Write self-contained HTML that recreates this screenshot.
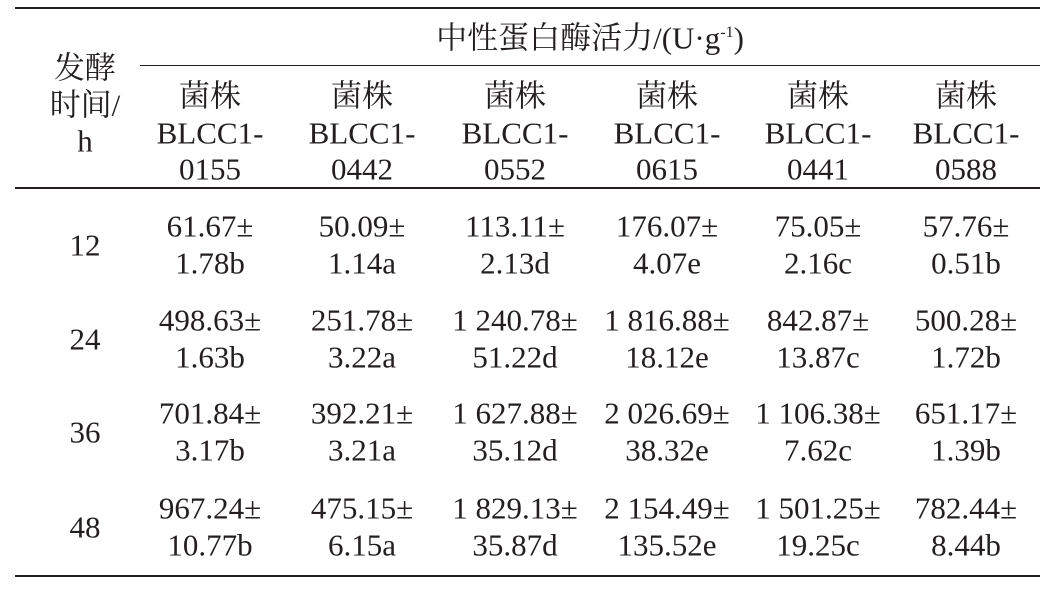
<!DOCTYPE html>
<html><head><meta charset="utf-8"><style>
body{margin:0;background:#fff;width:1053px;height:593px;position:relative;overflow:hidden;font-family:"Liberation Serif","Noto Serif CJK SC",serif;color:#231f20;font-size:31px}
.t{position:absolute;white-space:nowrap;transform:translate(-50%,-50%);line-height:1}
.l{position:absolute;background:#231f20}
</style></head><body>
<div class="l" style="left:15px;top:7px;width:1025px;height:2px"></div>
<div class="l" style="left:140px;top:65px;width:900px;height:1px"></div>
<div class="l" style="left:15px;top:187px;width:1025px;height:1.5px"></div>
<div class="l" style="left:15px;top:575px;width:1025px;height:2px"></div>
<div class="t" style="left:590px;top:38px">中性蛋白酶活力/(U·g<sup style="font-size:16px">-1</sup>)</div>
<div class="t" style="left:85px;top:68px">发酵</div>
<div class="t" style="left:85px;top:105px">时间/</div>
<div class="t" style="left:85px;top:141px">h</div>
<div id="c"></div>
<script>
var xs=[210,362,515,667,818,966];
var ids=["0155","0442","0552","0615","0441","0588"];
var h="";
xs.forEach(function(x,i){h+='<div class="t" style="left:'+x+'px;top:96px">菌株</div><div class="t" style="left:'+x+'px;top:133px">BLCC1-</div><div class="t" style="left:'+x+'px;top:169px">'+ids[i]+'</div>';});
var rows=[["12",226,[["61.67±","1.78b"],["50.09±","1.14a"],["113.11±","2.13d"],["176.07±","4.07e"],["75.05±","2.16c"],["57.76±","0.51b"]]],
["24",320,[["498.63±","1.63b"],["251.78±","3.22a"],["1 240.78±","51.22d"],["1 816.88±","18.12e"],["842.87±","13.87c"],["500.28±","1.72b"]]],
["36",413,[["701.84±","3.17b"],["392.21±","3.21a"],["1 627.88±","35.12d"],["2 026.69±","38.32e"],["1 106.38±","7.62c"],["651.17±","1.39b"]]],
["48",508,[["967.24±","10.77b"],["475.15±","6.15a"],["1 829.13±","35.87d"],["2 154.49±","135.52e"],["1 501.25±","19.25c"],["782.44±","8.44b"]]]];
rows.forEach(function(r){h+='<div class="t" style="left:85px;top:'+(r[1]+19)+'px">'+r[0]+'</div>';
r[2].forEach(function(v,i){h+='<div class="t" style="left:'+xs[i]+'px;top:'+r[1]+'px">'+v[0]+'</div><div class="t" style="left:'+xs[i]+'px;top:'+(r[1]+37)+'px">'+v[1]+'</div>';});});
document.getElementById("c").innerHTML=h;
</script>
</body></html>
